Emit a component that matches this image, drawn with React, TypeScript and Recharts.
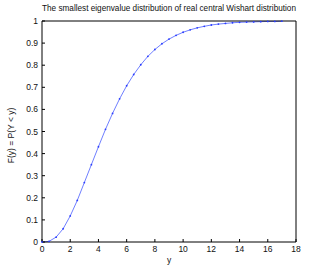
import React from 'react';
import { LineChart, Line, XAxis, YAxis } from 'recharts';

const yValues = [0, 0.5, 1, 1.5, 2, 2.5, 3, 3.5, 4, 4.5, 5, 5.5, 6, 6.5, 7, 7.5, 8, 8.5, 9, 9.5, 10, 10.5, 11, 11.5, 12, 12.5, 13, 13.5, 14, 14.5, 15, 15.5, 16, 16.5, 17];
const cdfValues = [0, 0.003, 0.022, 0.06, 0.118, 0.188, 0.269, 0.35, 0.431, 0.51, 0.582, 0.648, 0.707, 0.758, 0.802, 0.84, 0.871, 0.897, 0.918, 0.935, 0.949, 0.96, 0.969, 0.976, 0.982, 0.986, 0.989, 0.992, 0.994, 0.995, 0.996, 0.997, 0.998, 0.998, 0.999];
const xTicks = [0, 2, 4, 6, 8, 10, 12, 14, 16, 18];
const yTicks = [0, 0.1, 0.2, 0.3, 0.4, 0.5, 0.6, 0.7, 0.8, 0.9, 1];

const data = yValues.map((y, i) => ({ y, F: cdfValues[i] }));

const font = '"Liberation Sans", Arial, sans-serif';
const tickStyle = { fontSize: 8.5, fill: '#111', fontFamily: font };

export default function App() {
  return (
    <div style={{ position: 'absolute', left: 0, top: 0, width: 327, height: 273, background: '#fff', fontFamily: font }}>
      <div style={{ position: 'absolute', left: 0, width: 338, top: 4, textAlign: 'center', fontSize: 8.2, color: '#111', whiteSpace: 'nowrap' }}>
        The smallest eigenvalue distribution of real central Wishart distribution
      </div>
      <LineChart width={327} height={273} data={data} margin={{ top: 0, right: 0, bottom: 0, left: 0 }}>
        <XAxis
          dataKey="y" type="number" domain={[0, 18]} ticks={xTicks} height={31}
          stroke="#000" tickSize={-3} tickMargin={7} tick={tickStyle}
          label={{ content: ({ viewBox }: any) => (
            <text x={viewBox.x + viewBox.width / 2} y={viewBox.y + 21} textAnchor="middle" fontSize={8.5} fill="#111" fontFamily={font}>y</text>
          ) }}
        />
        <XAxis xAxisId="top" orientation="top" dataKey="y" type="number" domain={[0, 18]} ticks={xTicks} height={21}
          stroke="#000" tickSize={-3} tick={false} />
        <YAxis
          type="number" domain={[0, 1]} ticks={yTicks} width={42}
          stroke="#000" tickSize={-3} tickMargin={7} tick={tickStyle}
          label={{ content: ({ viewBox }: any) => {
            const cx = viewBox.x + 14;
            const cy = viewBox.y + viewBox.height / 2 + 4;
            return (
              <text x={cx} y={cy} transform={`rotate(-90, ${cx}, ${cy})`} textAnchor="middle" fontSize={8.5} fill="#111" fontFamily={font}>F(y) = P(Y &lt; y)</text>
            );
          } }}
        />
        <YAxis yAxisId="right" orientation="right" type="number" domain={[0, 1]} ticks={yTicks} width={31}
          stroke="#000" tickSize={-3} tick={false} />
        <Line
          dataKey="F" type="linear" stroke="#3048ff" strokeWidth={0.7}
          dot={{ r: 0.9, fill: '#2a3cff', stroke: 'none' }}
          isAnimationActive={false}
        />
      </LineChart>
    </div>
  );
}
